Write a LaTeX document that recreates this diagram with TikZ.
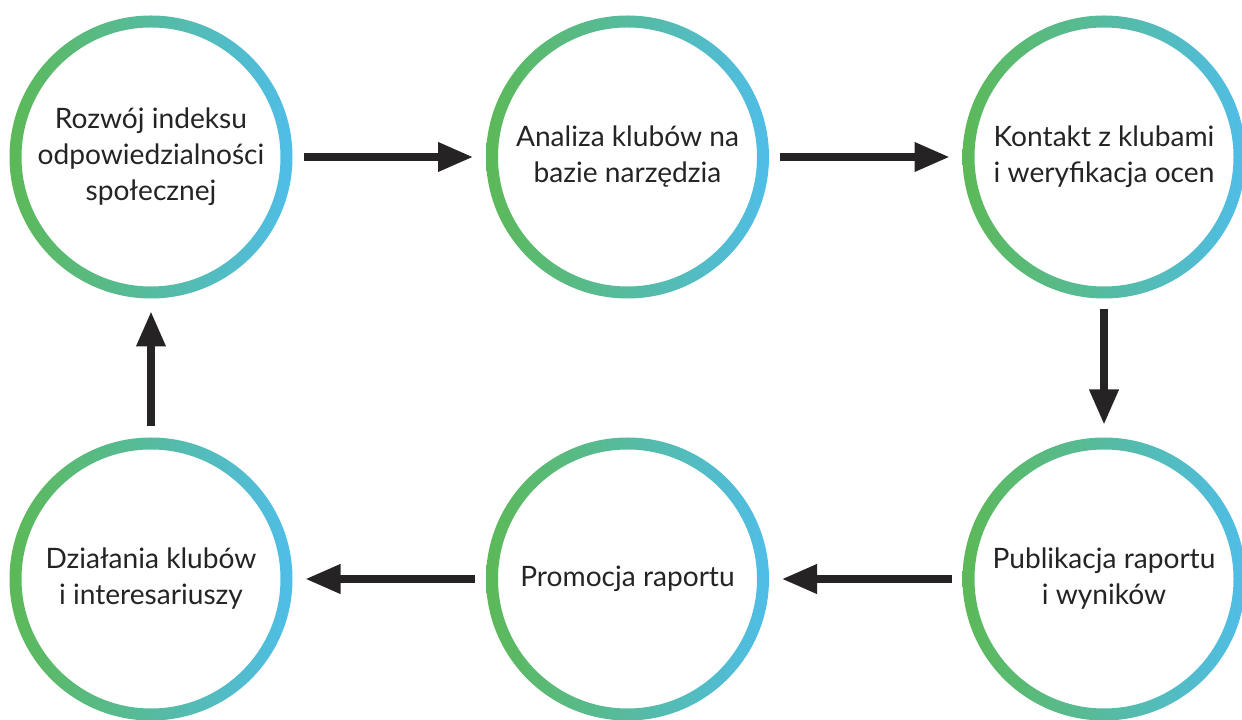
\documentclass[tikz,border=0pt]{standalone}
\usepackage{fontspec}
\setmainfont{Lato}
\usepackage{tikz}
\usetikzlibrary{positioning,arrows.meta}
\definecolor{RingGreen}{HTML}{5CB957}
\definecolor{RingBlue}{HTML}{4FBDE8}
\definecolor{TextDark}{HTML}{262324}

\begin{document}
\begin{tikzpicture}[
    stage/.style={circle,draw=none,minimum size=5.66cm,inner sep=0pt,outer sep=0pt,
      align=center,text=TextDark,font=\fontsize{16}{20.5}\selectfont},
    flow/.style={draw=TextDark,line width=4pt,-{Triangle[length=0.7cm,width=0.56cm]},
      shorten <=0.22cm,shorten >=0.26cm},
    node distance=8.44cm and 9.53cm, on grid]
  \useasboundingbox (0,0) rectangle (24.84,14.4);
  \node[stage] (s1) at (3.02,11.26) {Rozwój indeksu\\odpowiedzialności\\społecznej};
  \node[stage, right=of s1] (s2) {Analiza klubów na\\bazie narzędzia};
  \node[stage, right=of s2] (s3) {Kontakt z klubami\\i weryfikacja ocen};
  \node[stage, below=of s3] (s4) {Publikacja raportu\\i wyników};
  \node[stage, left=of s4] (s5) {Promocja raportu};
  \node[stage, left=of s5] (s6) {Działania klubów\\i interesariuszy};
  % gradient rings
  \foreach \n in {s1,s2,s3,s4,s5,s6}{
    \shade[even odd rule,left color=RingGreen,right color=RingBlue]
      (\n.center) circle (2.83) (\n.center) circle (2.59);
  }
  \draw[flow] (s1) -- (s2);
  \draw[flow] (s2) -- (s3);
  \draw[flow] (s3) -- (s4);
  \draw[flow] (s4) -- (s5);
  \draw[flow] (s5) -- (s6);
  \draw[flow] (s6) -- (s1);
\end{tikzpicture}
\end{document}
